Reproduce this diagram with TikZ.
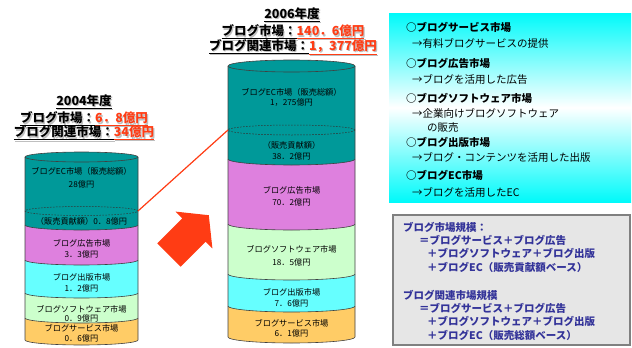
\documentclass[tikz,border=0pt]{standalone}
\usepackage{fontspec}
\setmainfont{Noto Sans CJK JP}
\definecolor{tealc}{RGB}{0,153,153}
\definecolor{pinkc}{RGB}{222,128,222}
\definecolor{cyanc}{RGB}{102,255,255}
\definecolor{greenc}{RGB}{204,255,204}
\definecolor{orangec}{RGB}{255,204,102}
\definecolor{redc}{RGB}{255,60,20}
\definecolor{navyc}{RGB}{51,51,153}
\definecolor{boxgray}{RGB}{230,230,230}
\definecolor{edgegray}{RGB}{128,128,128}
\definecolor{aqua}{RGB}{0,250,250}
\def\hlcolor{redc}
\newcommand\redpart[1]{\textcolor{\hlcolor}{\underline{#1}}}
\newcommand\blkpart[1]{\underline{#1}}
\tikzset{
  segline/.style={draw=black!75, line width=0.6pt},
  dashring/.style={draw=black!80, line width=0.5pt, dash pattern=on 1.6pt off 1.4pt},
  cyltext/.style={font=\fontsize{8.2}{9}\selectfont, text=black, inner sep=0pt},
  headtext/.style={font=\bfseries\fontsize{12.5}{14}\selectfont, inner sep=0pt},
  infohead/.style={font=\bfseries\fontsize{10.5}{12}\selectfont, anchor=west, inner sep=0pt},
  infoline/.style={font=\fontsize{10.5}{12}\selectfont, anchor=west, inner sep=0pt},
  boxtext/.style={font=\bfseries\fontsize{10.5}{12}\selectfont, text=navyc, anchor=west, inner sep=0pt},
}
% segment: xl, xr, top, bottom, rx, ry, colour
\newcommand\cylseg[7]{%
  \fill[#7] (#1,#3) -- (#1,#4) arc[start angle=180,end angle=360,x radius=#5pt,y radius=#6pt] -- (#2,#3) -- cycle;
  \draw[segline] (#1,#3) -- (#1,#4) arc[start angle=180,end angle=360,x radius=#5pt,y radius=#6pt] -- (#2,#3);}
\newcommand\headline[4]{%
  \node[headtext, text=gray!50] (#1s) at (#2+1.2,#3+1.2) {\def\hlcolor{gray!50}#4};
  \node[headtext] (#1) at (#2,#3) {#4};}
\begin{document}
\begin{tikzpicture}[x=1pt,y=-1pt]
\useasboundingbox (0,0) rectangle (632,348);

% ---------- left cylinder (2004) ----------
\cylseg{25}{138}{318}{340}{56.5}{5}{orangec}
\cylseg{25}{138}{293}{318}{56.5}{5}{greenc}
\cylseg{25}{138}{260}{293}{56.5}{5}{cyanc}
\cylseg{25}{138}{225}{260}{56.5}{5}{pinkc}
\cylseg{25}{138}{157}{225}{56.5}{5}{tealc}
\filldraw[fill=tealc, segline] (81.5,157) ellipse[x radius=56.5pt, y radius=5pt];
\draw[dashring] (81.5,211) ellipse[x radius=56.5pt, y radius=4.5pt];
\coordinate (Ldash) at (138,211);

\node[cyltext] (L1a) at (81.5,171) {ブログEC市場（販売総額）};
\node[cyltext] (L1b) at (81.5,184) {28億円};
\node[cyltext] (L2) at (81.5,221) {（販売貢献額）0．8億円};
\node[cyltext] (L3a) at (81.5,243) {ブログ広告市場};
\node[cyltext] (L3b) at (81.5,254) {3．3億円};
\node[cyltext] (L4a) at (81.5,277) {ブログ出版市場};
\node[cyltext] (L4b) at (81.5,288) {1．2億円};
\node[cyltext] (L5a) at (81.5,309) {ブログソフトウェア市場};
\node[cyltext] (L5b) at (81.5,318.5) {0．9億円};
\node[cyltext] (L6a) at (81.5,328) {ブログサービス市場};
\node[cyltext] (L6b) at (81.5,338) {0．6億円};

% ---------- right cylinder (2006) ----------
\cylseg{228}{355}{306}{337}{63.5}{6}{orangec}
\cylseg{228}{355}{274}{306}{63.5}{6}{cyanc}
\cylseg{228}{355}{224}{274}{63.5}{6}{greenc}
\cylseg{228}{355}{159}{224}{63.5}{6}{pinkc}
\cylseg{228}{355}{66}{159}{63.5}{6}{tealc}
\filldraw[fill=tealc, segline] (291.5,66) ellipse[x radius=63.5pt, y radius=6pt];
\draw[dashring] (291.5,130) ellipse[x radius=63.5pt, y radius=5pt];
\coordinate (Rdash) at (228,130);

\node[cyltext] (R1a) at (291.5,92) {ブログEC市場（販売総額）};
\node[cyltext] (R1b) at (291.5,103) {1，275億円};
\node[cyltext] (R2a) at (291.5,145) {（販売貢献額）};
\node[cyltext] (R2b) at (291.5,156) {38．2億円};
\node[cyltext] (R3a) at (291.5,190) {ブログ広告市場};
\node[cyltext] (R3b) at (291.5,202) {70．2億円};
\node[cyltext] (R4a) at (291.5,249) {ブログソフトウェア市場};
\node[cyltext] (R4b) at (291.5,262) {18．5億円};
\node[cyltext] (R5a) at (291.5,292) {ブログ出版市場};
\node[cyltext] (R5b) at (291.5,303) {7．6億円};
\node[cyltext] (R6a) at (291.5,323) {ブログサービス市場};
\node[cyltext] (R6b) at (291.5,333) {6．1億円};

% ---------- connector and big arrow ----------
\draw[redc, line width=1.2pt] (Ldash) -- (Rdash);
\fill[redc] (157.3,243.3) -- (182.3,218.3) -- (175.6,211.6) -- (208.8,215.2)
  -- (212.4,248.4) -- (205.7,241.7) -- (180.7,266.7) -- cycle;

% ---------- headings ----------
\headline{H04a}{84}{102}{\blkpart{2004年度}}
\headline{H04b}{84}{119}{\blkpart{ブログ市場：}\redpart{6．8億円}}
\headline{H04c}{84}{133}{\blkpart{ブログ関連市場：}\redpart{34億円}}
\headline{H06a}{292}{15}{\blkpart{2006年度}}
\headline{H06b}{293}{32}{\blkpart{ブログ市場：}\redpart{140．6億円}}
\headline{H06c}{293}{47}{\blkpart{ブログ関連市場：}\redpart{1，377億円}}

% ---------- definitions box ----------
\shade[top color=aqua, bottom color=aqua, middle color=white] (389,13) rectangle (631,202);
\node[infohead] (I1a) at (406,27) {○ブログサービス市場};
\node[infoline] (I1b) at (412,43) {→有料ブログサービスの提供};
\node[infohead] (I2a) at (406,63) {○ブログ広告市場};
\node[infoline] (I2b) at (412,79) {→ブログを活用した広告};
\node[infohead] (I3a) at (406,98.5) {○ブログソフトウェア市場};
\node[infoline] (I3b) at (412,113) {→企業向けブログソフトウェア};
\node[infoline] (I3c) at (427,127.5) {の販売};
\node[infohead] (I4a) at (406,142.5) {○ブログ出版市場};
\node[infoline] (I4b) at (412,157) {→ブログ・コンテンツを活用した出版};
\node[infohead] (I5a) at (406,175.5) {○ブログEC市場};
\node[infoline] (I5b) at (412,192.5) {→ブログを活用したEC};

% ---------- formula box ----------
\filldraw[fill=boxgray, draw=edgegray, line width=1.3pt] (393,215) rectangle (630,345);
\node[boxtext] (F1) at (403,227) {ブログ市場規模：};
\node[boxtext] (F2) at (419,240) {＝ブログサービス＋ブログ広告};
\node[boxtext] (F3) at (427,253.5) {＋ブログソフトウェア＋ブログ出版};
\node[boxtext] (F4) at (427,267) {＋ブログEC（販売貢献額ベース）};
\node[boxtext] (F5) at (403,295) {ブログ関連市場規模};
\node[boxtext] (F6) at (419,308) {＝ブログサービス＋ブログ広告};
\node[boxtext] (F7) at (427,321.5) {＋ブログソフトウェア＋ブログ出版};
\node[boxtext] (F8) at (427,335) {＋ブログEC（販売総額ベース）};
\end{tikzpicture}
\end{document}
